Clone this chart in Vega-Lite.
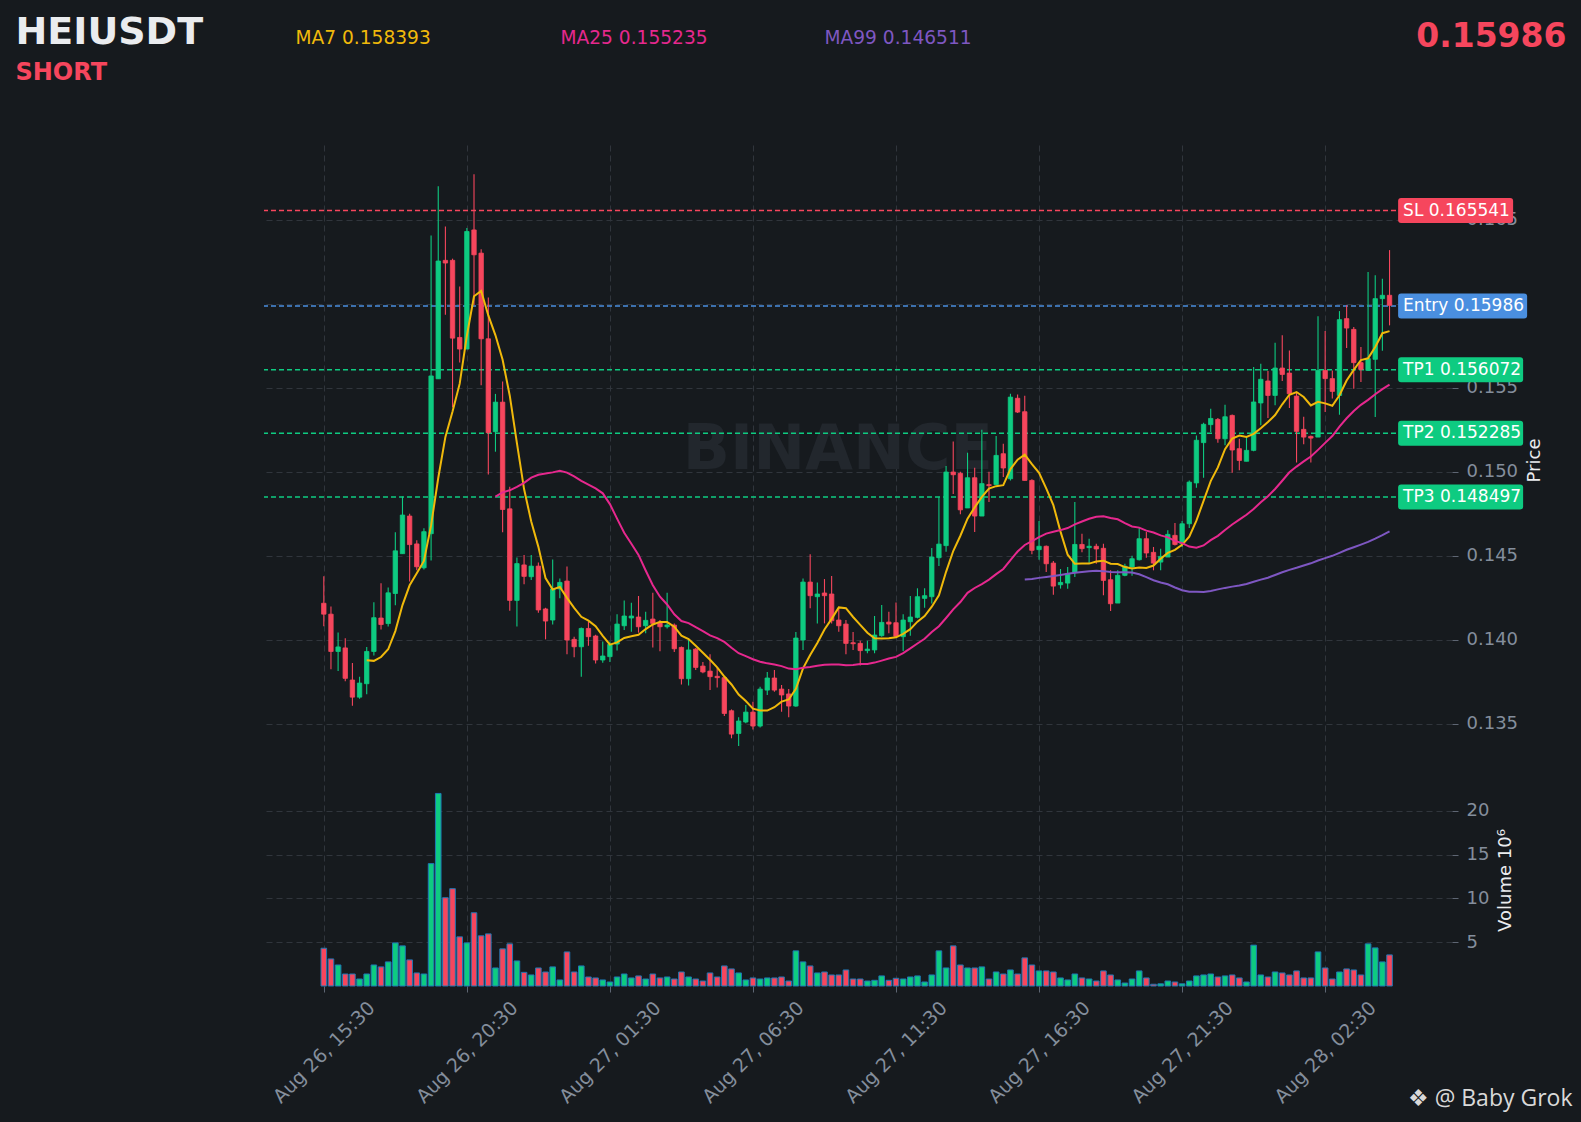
{
  "$schema": "https://vega.github.io/schema/vega-lite/v6.json",
  "background": "#161a1e",
  "autosize": {"type": "none"},
  "padding": {"left": 264, "top": 145, "right": 129, "bottom": 136},
  "width": 1188,
  "height": 841,
  "config": {
    "view": {"stroke": null},
    "scale": {"continuousPadding": 0},
    "axis": {
      "domain": false, "ticks": false, "labels": false, "grid": false,
      "labelFont": "DejaVu Sans", "titleFont": "DejaVu Sans", "titleFontWeight": "normal",
      "labelColor": "#848e9c", "tickColor": "#5e6673", "gridColor": "#30353c", "gridDash": [6, 4],
      "titleColor": "#eaecef"
    }
  },
  "datasets": {
    "candles": [
      {"t":"2025-08-26T15:30Z","o":0.14217,"h":0.14377,"l":0.1408,"c":0.14152,"v":4.31},
      {"t":"2025-08-26T15:45Z","o":0.14152,"h":0.14197,"l":0.13824,"c":0.1393,"v":3.09},
      {"t":"2025-08-26T16:00Z","o":0.1393,"h":0.14043,"l":0.13814,"c":0.13957,"v":2.4},
      {"t":"2025-08-26T16:15Z","o":0.13951,"h":0.14008,"l":0.13752,"c":0.1377,"v":1.37},
      {"t":"2025-08-26T16:30Z","o":0.1376,"h":0.13861,"l":0.13607,"c":0.13658,"v":1.37},
      {"t":"2025-08-26T16:45Z","o":0.13658,"h":0.13779,"l":0.13648,"c":0.13742,"v":0.8},
      {"t":"2025-08-26T17:00Z","o":0.13738,"h":0.13957,"l":0.13676,"c":0.1393,"v":1.37},
      {"t":"2025-08-26T17:15Z","o":0.1393,"h":0.14223,"l":0.13906,"c":0.14131,"v":2.4},
      {"t":"2025-08-26T17:30Z","o":0.14129,"h":0.14336,"l":0.14061,"c":0.1409,"v":2.18},
      {"t":"2025-08-26T17:45Z","o":0.14096,"h":0.14311,"l":0.14078,"c":0.14279,"v":2.75},
      {"t":"2025-08-26T18:00Z","o":0.14275,"h":0.14639,"l":0.14205,"c":0.14529,"v":4.92},
      {"t":"2025-08-26T18:15Z","o":0.14512,"h":0.14852,"l":0.14512,"c":0.14742,"v":4.58},
      {"t":"2025-08-26T18:30Z","o":0.14736,"h":0.1475,"l":0.14346,"c":0.14566,"v":2.98},
      {"t":"2025-08-26T18:45Z","o":0.1457,"h":0.14592,"l":0.14414,"c":0.14434,"v":1.49},
      {"t":"2025-08-26T19:00Z","o":0.14428,"h":0.14664,"l":0.14418,"c":0.14643,"v":1.37},
      {"t":"2025-08-26T19:15Z","o":0.14631,"h":0.16406,"l":0.14471,"c":0.1557,"v":13.97},
      {"t":"2025-08-26T19:30Z","o":0.15553,"h":0.16699,"l":0.15553,"c":0.16254,"v":21.98},
      {"t":"2025-08-26T19:45Z","o":0.16258,"h":0.16459,"l":0.15934,"c":0.16242,"v":10.08},
      {"t":"2025-08-26T20:00Z","o":0.16258,"h":0.16268,"l":0.15383,"c":0.15795,"v":11.11},
      {"t":"2025-08-26T20:15Z","o":0.15799,"h":0.16102,"l":0.1565,"c":0.1573,"v":5.61},
      {"t":"2025-08-26T20:30Z","o":0.1573,"h":0.16451,"l":0.1573,"c":0.1643,"v":4.92},
      {"t":"2025-08-26T20:45Z","o":0.16439,"h":0.1677,"l":0.15992,"c":0.16291,"v":8.36},
      {"t":"2025-08-26T21:00Z","o":0.16301,"h":0.16324,"l":0.15514,"c":0.15791,"v":5.73},
      {"t":"2025-08-26T21:15Z","o":0.15791,"h":0.16037,"l":0.14984,"c":0.15232,"v":5.95},
      {"t":"2025-08-26T21:30Z","o":0.15238,"h":0.15463,"l":0.15119,"c":0.15414,"v":2.06},
      {"t":"2025-08-26T21:45Z","o":0.15414,"h":0.15537,"l":0.14639,"c":0.14775,"v":4.24},
      {"t":"2025-08-26T22:00Z","o":0.14779,"h":0.1491,"l":0.14172,"c":0.14234,"v":4.81},
      {"t":"2025-08-26T22:15Z","o":0.14234,"h":0.1449,"l":0.14078,"c":0.14453,"v":2.86},
      {"t":"2025-08-26T22:30Z","o":0.14445,"h":0.14504,"l":0.1433,"c":0.14377,"v":1.56},
      {"t":"2025-08-26T22:45Z","o":0.14375,"h":0.14504,"l":0.14355,"c":0.14438,"v":1.26},
      {"t":"2025-08-26T23:00Z","o":0.14438,"h":0.1446,"l":0.14161,"c":0.14177,"v":2.06},
      {"t":"2025-08-26T23:15Z","o":0.14183,"h":0.1419,"l":0.14002,"c":0.14111,"v":1.6},
      {"t":"2025-08-26T23:30Z","o":0.14117,"h":0.14478,"l":0.14091,"c":0.14302,"v":2.18},
      {"t":"2025-08-26T23:45Z","o":0.14302,"h":0.14365,"l":0.14246,"c":0.14341,"v":0.69},
      {"t":"2025-08-27T00:00Z","o":0.14349,"h":0.14435,"l":0.13913,"c":0.13998,"v":3.89},
      {"t":"2025-08-27T00:15Z","o":0.14002,"h":0.14018,"l":0.13895,"c":0.13958,"v":1.6},
      {"t":"2025-08-27T00:30Z","o":0.13958,"h":0.14073,"l":0.1378,"c":0.14067,"v":2.29},
      {"t":"2025-08-27T00:45Z","o":0.14067,"h":0.14107,"l":0.13964,"c":0.14018,"v":1.03},
      {"t":"2025-08-27T01:00Z","o":0.14022,"h":0.1403,"l":0.13859,"c":0.13879,"v":0.92},
      {"t":"2025-08-27T01:15Z","o":0.13879,"h":0.1399,"l":0.13863,"c":0.13903,"v":0.69},
      {"t":"2025-08-27T01:30Z","o":0.13899,"h":0.1399,"l":0.13867,"c":0.13972,"v":0.46},
      {"t":"2025-08-27T01:45Z","o":0.13974,"h":0.14151,"l":0.13935,"c":0.14093,"v":1.03},
      {"t":"2025-08-27T02:00Z","o":0.14083,"h":0.14234,"l":0.14058,"c":0.14141,"v":1.37},
      {"t":"2025-08-27T02:15Z","o":0.14129,"h":0.1422,"l":0.14048,"c":0.14141,"v":0.92},
      {"t":"2025-08-27T02:30Z","o":0.14135,"h":0.1426,"l":0.14042,"c":0.14077,"v":1.15},
      {"t":"2025-08-27T02:45Z","o":0.14083,"h":0.14167,"l":0.14038,"c":0.14115,"v":0.8},
      {"t":"2025-08-27T03:00Z","o":0.14123,"h":0.1428,"l":0.13954,"c":0.14097,"v":1.37},
      {"t":"2025-08-27T03:15Z","o":0.14105,"h":0.14117,"l":0.13931,"c":0.14077,"v":0.92},
      {"t":"2025-08-27T03:30Z","o":0.14077,"h":0.1428,"l":0.14067,"c":0.14087,"v":1.03},
      {"t":"2025-08-27T03:45Z","o":0.14087,"h":0.14097,"l":0.13927,"c":0.13946,"v":0.8},
      {"t":"2025-08-27T04:00Z","o":0.13954,"h":0.1396,"l":0.13734,"c":0.13768,"v":1.6},
      {"t":"2025-08-27T04:15Z","o":0.13768,"h":0.14002,"l":0.13728,"c":0.13939,"v":1.03},
      {"t":"2025-08-27T04:30Z","o":0.13944,"h":0.1395,"l":0.13819,"c":0.13835,"v":0.8},
      {"t":"2025-08-27T04:45Z","o":0.13843,"h":0.13867,"l":0.138,"c":0.13808,"v":0.57},
      {"t":"2025-08-27T05:00Z","o":0.13813,"h":0.13913,"l":0.137,"c":0.1378,"v":1.49},
      {"t":"2025-08-27T05:15Z","o":0.13782,"h":0.13835,"l":0.13716,"c":0.13774,"v":1.03},
      {"t":"2025-08-27T05:30Z","o":0.13774,"h":0.1378,"l":0.13546,"c":0.13561,"v":2.29},
      {"t":"2025-08-27T05:45Z","o":0.13577,"h":0.13585,"l":0.13413,"c":0.13438,"v":1.95},
      {"t":"2025-08-27T06:00Z","o":0.13442,"h":0.13538,"l":0.13367,"c":0.13516,"v":1.49},
      {"t":"2025-08-27T06:15Z","o":0.1351,"h":0.13611,"l":0.13502,"c":0.13569,"v":0.69},
      {"t":"2025-08-27T06:30Z","o":0.13569,"h":0.13631,"l":0.13466,"c":0.13486,"v":0.92},
      {"t":"2025-08-27T06:45Z","o":0.13486,"h":0.1372,"l":0.13478,"c":0.13706,"v":0.8},
      {"t":"2025-08-27T07:00Z","o":0.137,"h":0.13808,"l":0.13671,"c":0.13772,"v":0.92},
      {"t":"2025-08-27T07:15Z","o":0.13772,"h":0.13819,"l":0.1369,"c":0.137,"v":0.92},
      {"t":"2025-08-27T07:30Z","o":0.13706,"h":0.1373,"l":0.13571,"c":0.13671,"v":1.03},
      {"t":"2025-08-27T07:45Z","o":0.13677,"h":0.13706,"l":0.13538,"c":0.13605,"v":0.57},
      {"t":"2025-08-27T08:00Z","o":0.13605,"h":0.14046,"l":0.13601,"c":0.1401,"v":4.01},
      {"t":"2025-08-27T08:15Z","o":0.13998,"h":0.14365,"l":0.13939,"c":0.14343,"v":2.75},
      {"t":"2025-08-27T08:30Z","o":0.14343,"h":0.14508,"l":0.14187,"c":0.14262,"v":2.29},
      {"t":"2025-08-27T08:45Z","o":0.14256,"h":0.14341,"l":0.14097,"c":0.14272,"v":1.49},
      {"t":"2025-08-27T09:00Z","o":0.14278,"h":0.14361,"l":0.14097,"c":0.14262,"v":1.6},
      {"t":"2025-08-27T09:15Z","o":0.14272,"h":0.14379,"l":0.14097,"c":0.14113,"v":1.26},
      {"t":"2025-08-27T09:30Z","o":0.14117,"h":0.14192,"l":0.14048,"c":0.14083,"v":1.26},
      {"t":"2025-08-27T09:45Z","o":0.14093,"h":0.14117,"l":0.13913,"c":0.13978,"v":1.83},
      {"t":"2025-08-27T10:00Z","o":0.13982,"h":0.14046,"l":0.13939,"c":0.13976,"v":0.8},
      {"t":"2025-08-27T10:15Z","o":0.13978,"h":0.13994,"l":0.13847,"c":0.13935,"v":0.8},
      {"t":"2025-08-27T10:30Z","o":0.13935,"h":0.13994,"l":0.13919,"c":0.13944,"v":0.57},
      {"t":"2025-08-27T10:45Z","o":0.13939,"h":0.14141,"l":0.13919,"c":0.14028,"v":0.65},
      {"t":"2025-08-27T11:00Z","o":0.14024,"h":0.14206,"l":0.14018,"c":0.14103,"v":1.15},
      {"t":"2025-08-27T11:15Z","o":0.14105,"h":0.14167,"l":0.14038,"c":0.14093,"v":0.65},
      {"t":"2025-08-27T11:30Z","o":0.14101,"h":0.14222,"l":0.14018,"c":0.1402,"v":0.88},
      {"t":"2025-08-27T11:45Z","o":0.14018,"h":0.14151,"l":0.13933,"c":0.14117,"v":0.8},
      {"t":"2025-08-27T12:00Z","o":0.14107,"h":0.1426,"l":0.14024,"c":0.14135,"v":1.03},
      {"t":"2025-08-27T12:15Z","o":0.14133,"h":0.14306,"l":0.14127,"c":0.14256,"v":1.15},
      {"t":"2025-08-27T12:30Z","o":0.14246,"h":0.14306,"l":0.1419,"c":0.14262,"v":0.46},
      {"t":"2025-08-27T12:45Z","o":0.14256,"h":0.14546,"l":0.14216,"c":0.14492,"v":1.26},
      {"t":"2025-08-27T13:00Z","o":0.14488,"h":0.14851,"l":0.14438,"c":0.14569,"v":4.01},
      {"t":"2025-08-27T13:15Z","o":0.1456,"h":0.15034,"l":0.14524,"c":0.14998,"v":2.06},
      {"t":"2025-08-27T13:30Z","o":0.14998,"h":0.1518,"l":0.14867,"c":0.14982,"v":4.58},
      {"t":"2025-08-27T13:45Z","o":0.1499,"h":0.15,"l":0.14746,"c":0.14773,"v":2.4},
      {"t":"2025-08-27T14:00Z","o":0.14784,"h":0.15113,"l":0.14784,"c":0.14964,"v":2.06},
      {"t":"2025-08-27T14:15Z","o":0.14964,"h":0.15024,"l":0.14641,"c":0.14736,"v":2.06},
      {"t":"2025-08-27T14:30Z","o":0.14736,"h":0.1525,"l":0.14736,"c":0.14929,"v":2.18},
      {"t":"2025-08-27T14:45Z","o":0.14923,"h":0.15,"l":0.14819,"c":0.14917,"v":0.8},
      {"t":"2025-08-27T15:00Z","o":0.14923,"h":0.15212,"l":0.14923,"c":0.15097,"v":1.6},
      {"t":"2025-08-27T15:15Z","o":0.15107,"h":0.15167,"l":0.14968,"c":0.15022,"v":1.37},
      {"t":"2025-08-27T15:30Z","o":0.14958,"h":0.15464,"l":0.14948,"c":0.15444,"v":1.83},
      {"t":"2025-08-27T15:45Z","o":0.15437,"h":0.1546,"l":0.1535,"c":0.15355,"v":1.37},
      {"t":"2025-08-27T16:00Z","o":0.15357,"h":0.15452,"l":0.14948,"c":0.14948,"v":3.21},
      {"t":"2025-08-27T16:15Z","o":0.14948,"h":0.14955,"l":0.14508,"c":0.14532,"v":2.4},
      {"t":"2025-08-27T16:30Z","o":0.14536,"h":0.14706,"l":0.14476,"c":0.14556,"v":1.72},
      {"t":"2025-08-27T16:45Z","o":0.14556,"h":0.1456,"l":0.14403,"c":0.14452,"v":1.72},
      {"t":"2025-08-27T17:00Z","o":0.14456,"h":0.14468,"l":0.14268,"c":0.14319,"v":1.6},
      {"t":"2025-08-27T17:15Z","o":0.14327,"h":0.14421,"l":0.14304,"c":0.14341,"v":0.92},
      {"t":"2025-08-27T17:30Z","o":0.14337,"h":0.14433,"l":0.14304,"c":0.14393,"v":0.69},
      {"t":"2025-08-27T17:45Z","o":0.14403,"h":0.14819,"l":0.14373,"c":0.14567,"v":1.37},
      {"t":"2025-08-27T18:00Z","o":0.14567,"h":0.14631,"l":0.1452,"c":0.14542,"v":0.92},
      {"t":"2025-08-27T18:15Z","o":0.14548,"h":0.14601,"l":0.14452,"c":0.14556,"v":0.8},
      {"t":"2025-08-27T18:30Z","o":0.14556,"h":0.14571,"l":0.14452,"c":0.1454,"v":0.57},
      {"t":"2025-08-27T18:45Z","o":0.14544,"h":0.14571,"l":0.14264,"c":0.14353,"v":1.72},
      {"t":"2025-08-27T19:00Z","o":0.14357,"h":0.14413,"l":0.14171,"c":0.14214,"v":1.26},
      {"t":"2025-08-27T19:15Z","o":0.14218,"h":0.14413,"l":0.14218,"c":0.14383,"v":0.69},
      {"t":"2025-08-27T19:30Z","o":0.14383,"h":0.14452,"l":0.14377,"c":0.14437,"v":0.34},
      {"t":"2025-08-27T19:45Z","o":0.14433,"h":0.145,"l":0.14381,"c":0.14482,"v":0.8},
      {"t":"2025-08-27T20:00Z","o":0.14476,"h":0.14667,"l":0.14472,"c":0.14601,"v":1.72},
      {"t":"2025-08-27T20:15Z","o":0.14601,"h":0.14641,"l":0.14488,"c":0.14516,"v":0.92},
      {"t":"2025-08-27T20:30Z","o":0.1452,"h":0.14552,"l":0.14413,"c":0.14456,"v":0.2},
      {"t":"2025-08-27T20:45Z","o":0.14462,"h":0.14542,"l":0.14413,"c":0.14496,"v":0.25},
      {"t":"2025-08-27T21:00Z","o":0.14492,"h":0.14651,"l":0.14492,"c":0.14627,"v":0.57},
      {"t":"2025-08-27T21:15Z","o":0.14621,"h":0.14694,"l":0.14561,"c":0.14567,"v":0.46},
      {"t":"2025-08-27T21:30Z","o":0.14571,"h":0.14706,"l":0.14552,"c":0.1469,"v":0.25},
      {"t":"2025-08-27T21:45Z","o":0.1469,"h":0.14948,"l":0.14665,"c":0.14938,"v":0.57},
      {"t":"2025-08-27T22:00Z","o":0.14933,"h":0.15216,"l":0.14905,"c":0.15187,"v":1.15},
      {"t":"2025-08-27T22:15Z","o":0.15173,"h":0.15292,"l":0.14964,"c":0.15282,"v":1.26},
      {"t":"2025-08-27T22:30Z","o":0.1528,"h":0.15375,"l":0.15236,"c":0.15317,"v":1.37},
      {"t":"2025-08-27T22:45Z","o":0.15311,"h":0.1532,"l":0.15173,"c":0.15196,"v":1.03},
      {"t":"2025-08-27T23:00Z","o":0.15196,"h":0.15399,"l":0.15157,"c":0.15327,"v":1.15},
      {"t":"2025-08-27T23:15Z","o":0.15335,"h":0.1534,"l":0.14994,"c":0.15129,"v":1.26},
      {"t":"2025-08-27T23:30Z","o":0.15137,"h":0.15196,"l":0.15008,"c":0.15067,"v":0.92},
      {"t":"2025-08-27T23:45Z","o":0.15062,"h":0.15206,"l":0.15062,"c":0.15127,"v":0.46},
      {"t":"2025-08-28T00:00Z","o":0.15127,"h":0.15623,"l":0.15121,"c":0.15415,"v":4.66},
      {"t":"2025-08-28T00:15Z","o":0.15409,"h":0.15643,"l":0.15276,"c":0.1555,"v":1.26},
      {"t":"2025-08-28T00:30Z","o":0.1554,"h":0.15599,"l":0.15319,"c":0.15454,"v":1.03},
      {"t":"2025-08-28T00:45Z","o":0.15454,"h":0.15768,"l":0.15395,"c":0.15617,"v":1.6},
      {"t":"2025-08-28T01:00Z","o":0.15617,"h":0.15812,"l":0.1554,"c":0.15579,"v":1.49},
      {"t":"2025-08-28T01:15Z","o":0.15587,"h":0.15722,"l":0.15379,"c":0.15464,"v":1.26},
      {"t":"2025-08-28T01:30Z","o":0.1545,"h":0.15474,"l":0.15054,"c":0.1524,"v":1.72},
      {"t":"2025-08-28T01:45Z","o":0.15252,"h":0.15327,"l":0.15163,"c":0.15206,"v":0.92},
      {"t":"2025-08-28T02:00Z","o":0.1521,"h":0.15216,"l":0.15054,"c":0.152,"v":0.92},
      {"t":"2025-08-28T02:15Z","o":0.15206,"h":0.15925,"l":0.15206,"c":0.15603,"v":3.89},
      {"t":"2025-08-28T02:30Z","o":0.15603,"h":0.15837,"l":0.15355,"c":0.15554,"v":2.06},
      {"t":"2025-08-28T02:45Z","o":0.15554,"h":0.15603,"l":0.15435,"c":0.15478,"v":0.8},
      {"t":"2025-08-28T03:00Z","o":0.15454,"h":0.15956,"l":0.15339,"c":0.15905,"v":1.6},
      {"t":"2025-08-28T03:15Z","o":0.15911,"h":0.1599,"l":0.15736,"c":0.15855,"v":1.95},
      {"t":"2025-08-28T03:30Z","o":0.15847,"h":0.15861,"l":0.15494,"c":0.15649,"v":1.83},
      {"t":"2025-08-28T03:45Z","o":0.15649,"h":0.15742,"l":0.15534,"c":0.15609,"v":1.26},
      {"t":"2025-08-28T04:00Z","o":0.15603,"h":0.16188,"l":0.15603,"c":0.15673,"v":4.81},
      {"t":"2025-08-28T04:15Z","o":0.15669,"h":0.16169,"l":0.15325,"c":0.1603,"v":4.35},
      {"t":"2025-08-28T04:30Z","o":0.1603,"h":0.16149,"l":0.1572,"c":0.1605,"v":2.75},
      {"t":"2025-08-28T04:45Z","o":0.1605,"h":0.16319,"l":0.15871,"c":0.1599,"v":3.55}
    ],
    "levels": [
      {"label": "SL 0.165541", "kind": "sl", "price": 0.165541},
      {"label": "Entry 0.15986", "kind": "entry", "price": 0.15986},
      {"label": "TP1 0.156072", "kind": "tp", "price": 0.156072},
      {"label": "TP2 0.152285", "kind": "tp", "price": 0.152285},
      {"label": "TP3 0.148497", "kind": "tp", "price": 0.148497}
    ]
  },
  "data": {"name": "candles"},
  "layer": [
    {
      "layer": [
        {
          "data": {"values": [{"w": "BINANCE"}]},
          "mark": {"type": "text", "font": "DejaVu Sans", "fontWeight": "bold", "fontSize": 62, "color": "#22272d", "align": "center", "baseline": "middle"},
          "encoding": {
            "x": {"datum": {"year": 2025, "month": 8, "date": 27, "hours": 9, "minutes": 28, "utc": true}, "type": "temporal",
              "scale": {"type": "utc", "nice": false, "padding": 0, "domain": [{"year": 2025, "month": 8, "date": 26, "hours": 13, "minutes": 24, "seconds": 35, "utc": true}, {"year": 2025, "month": 8, "date": 28, "hours": 6, "minutes": 56, "utc": true}]},
              "axis": {"orient": "top", "title": "0.15986", "titleX": 1302, "titleY": -99, "titleAngle": 0, "titleAlign": "right", "titleBaseline": "alphabetic", "titleFontSize": 33, "titleFontWeight": "bold", "titleColor": "#f6465d"}},
            "y": {"datum": 0.15129, "type": "quantitative", "scale": {"domain": [0.119387, 0.169446], "zero": false, "nice": false},
              "axis": {"orient": "left", "title": "HEIUSDT", "titleX": -249, "titleY": -102, "titleAngle": 0, "titleAlign": "left", "titleBaseline": "alphabetic", "titleFontSize": 38, "titleFontWeight": "bold", "titleColor": "#eaecef"}},
            "text": {"field": "w"}
          }
        },
        {
          "data": {"name": "levels"},
          "mark": {"type": "rule", "strokeDash": [5, 3], "strokeWidth": 1.5},
          "encoding": {
            "y": {"field": "price", "type": "quantitative", "scale": {"domain": [0.119387, 0.169446], "zero": false, "nice": false}, "axis": null},
            "color": {"field": "kind", "type": "nominal", "scale": {"domain": ["sl", "entry", "tp"], "range": ["#f6465d", "#4a8fe0", "#0ecb81"]}, "legend": null}
          }
        },
        {
          "mark": {"type": "rule", "strokeWidth": 1.1},
          "encoding": {
            "x": {"field": "t", "type": "temporal", "scale": {"type": "utc", "nice": false, "padding": 0, "domain": [{"year": 2025, "month": 8, "date": 26, "hours": 13, "minutes": 24, "seconds": 35, "utc": true}, {"year": 2025, "month": 8, "date": 28, "hours": 6, "minutes": 56, "utc": true}]}, "axis": null},
            "y": {"field": "l", "type": "quantitative", "scale": {"domain": [0.119387, 0.169446], "zero": false, "nice": false},
              "axis": {"orient": "right", "values": [0.135, 0.14, 0.145, 0.15, 0.155, 0.16, 0.165], "format": ".3f", "labels": true, "ticks": true, "tickSize": 6, "grid": true, "labelPadding": 8, "labelFontSize": 18,
                "title": "Price", "titleFontSize": 18, "titleAngle": 270, "titleBaseline": "top", "titleY": 315, "titlePadding": 8}},
            "y2": {"field": "h"},
            "color": {"condition": {"test": "datum.c >= datum.o", "value": "#0ecb81"}, "value": "#f6465d"}
          }
        },
        {
          "mark": {"type": "bar", "width": 4.4, "strokeWidth": 0.8},
          "encoding": {
            "x": {"field": "t", "type": "temporal", "scale": {"type": "utc", "nice": false, "padding": 0, "domain": [{"year": 2025, "month": 8, "date": 26, "hours": 13, "minutes": 24, "seconds": 35, "utc": true}, {"year": 2025, "month": 8, "date": 28, "hours": 6, "minutes": 56, "utc": true}]}, "axis": null},
            "y": {"field": "o", "type": "quantitative", "scale": {"domain": [0.119387, 0.169446], "zero": false, "nice": false},
              "axis": {"orient": "left", "title": "SHORT", "titleX": -249, "titleY": -66, "titleAngle": 0, "titleAlign": "left", "titleBaseline": "alphabetic", "titleFontSize": 24, "titleFontWeight": "bold", "titleColor": "#f6465d"}},
            "y2": {"field": "c"},
            "fill": {"condition": {"test": "datum.c >= datum.o", "value": "#0ecb81"}, "value": "#f6465d"},
            "stroke": {"condition": {"test": "datum.c >= datum.o", "value": "#0ecb81"}, "value": "#f6465d"}
          }
        },
        {
          "transform": [
            {"window": [{"op": "mean", "field": "c", "as": "ma"}, {"op": "count", "as": "n"}], "frame": [-6, 0], "sort": [{"field": "t"}]},
            {"filter": "datum.n == 7"}
          ],
          "mark": {"type": "line", "color": "#f0b90b", "strokeWidth": 2},
          "encoding": {
            "x": {"field": "t", "type": "temporal", "scale": {"type": "utc", "nice": false, "padding": 0, "domain": [{"year": 2025, "month": 8, "date": 26, "hours": 13, "minutes": 24, "seconds": 35, "utc": true}, {"year": 2025, "month": 8, "date": 28, "hours": 6, "minutes": 56, "utc": true}]},
              "axis": {"orient": "top", "title": "MA7 0.158393", "titleX": 31, "titleY": -102, "titleAngle": 0, "titleAlign": "left", "titleBaseline": "alphabetic", "titleFontSize": 18.6, "titleColor": "#f0b90b"}},
            "y": {"field": "ma", "type": "quantitative", "scale": {"domain": [0.119387, 0.169446], "zero": false, "nice": false}, "axis": null}
          }
        },
        {
          "transform": [
            {"window": [{"op": "mean", "field": "c", "as": "ma"}, {"op": "count", "as": "n"}], "frame": [-24, 0], "sort": [{"field": "t"}]},
            {"filter": "datum.n == 25"}
          ],
          "mark": {"type": "line", "color": "#e6288e", "strokeWidth": 2},
          "encoding": {
            "x": {"field": "t", "type": "temporal", "scale": {"type": "utc", "nice": false, "padding": 0, "domain": [{"year": 2025, "month": 8, "date": 26, "hours": 13, "minutes": 24, "seconds": 35, "utc": true}, {"year": 2025, "month": 8, "date": 28, "hours": 6, "minutes": 56, "utc": true}]},
              "axis": {"orient": "top", "title": "MA25 0.155235", "titleX": 296, "titleY": -102, "titleAngle": 0, "titleAlign": "left", "titleBaseline": "alphabetic", "titleFontSize": 18.6, "titleColor": "#e6288e"}},
            "y": {"field": "ma", "type": "quantitative", "scale": {"domain": [0.119387, 0.169446], "zero": false, "nice": false}, "axis": null}
          }
        },
        {
          "transform": [
            {"window": [{"op": "mean", "field": "c", "as": "ma"}, {"op": "count", "as": "n"}], "frame": [-98, 0], "sort": [{"field": "t"}]},
            {"filter": "datum.n == 99"}
          ],
          "mark": {"type": "line", "color": "#7e57c2", "strokeWidth": 2},
          "encoding": {
            "x": {"field": "t", "type": "temporal", "scale": {"type": "utc", "nice": false, "padding": 0, "domain": [{"year": 2025, "month": 8, "date": 26, "hours": 13, "minutes": 24, "seconds": 35, "utc": true}, {"year": 2025, "month": 8, "date": 28, "hours": 6, "minutes": 56, "utc": true}]},
              "axis": {"orient": "top", "title": "MA99 0.146511", "titleX": 560, "titleY": -102, "titleAngle": 0, "titleAlign": "left", "titleBaseline": "alphabetic", "titleFontSize": 18.6, "titleColor": "#7e57c2"}},
            "y": {"field": "ma", "type": "quantitative", "scale": {"domain": [0.119387, 0.169446], "zero": false, "nice": false}, "axis": null}
          }
        },
        {
          "data": {"name": "levels"},
          "mark": {"type": "point", "filled": true, "size": 4, "opacity": 1, "strokeWidth": 0},
          "encoding": {
            "x": {"datum": {"year": 2025, "month": 8, "date": 28, "hours": 5, "minutes": 3, "utc": true}, "type": "temporal", "scale": {"type": "utc", "nice": false, "padding": 0, "domain": [{"year": 2025, "month": 8, "date": 26, "hours": 13, "minutes": 24, "seconds": 35, "utc": true}, {"year": 2025, "month": 8, "date": 28, "hours": 6, "minutes": 56, "utc": true}]}, "axis": null},
            "y": {"field": "price", "type": "quantitative", "scale": {"domain": [0.119387, 0.169446], "zero": false, "nice": false}, "axis": null},
            "color": {"field": "kind", "type": "nominal", "scale": {"domain": ["sl", "entry", "tp"], "range": ["#f6465d", "#4a8fe0", "#0ecb81"]}, "legend": null},
            "shape": {"field": "kind", "type": "nominal", "legend": null, "scale": {"domain": ["sl", "entry", "tp"], "range": [
              "M3,-12.5H112Q115,-12.5 115,-9.5V9.5Q115,12.5 112,12.5H3Q0,12.5 0,9.5V-9.5Q0,-12.5 3,-12.5Z",
              "M3,-12.5H126Q129,-12.5 129,-9.5V9.5Q129,12.5 126,12.5H3Q0,12.5 0,9.5V-9.5Q0,-12.5 3,-12.5Z",
              "M3,-12.5H122Q125,-12.5 125,-9.5V9.5Q125,12.5 122,12.5H3Q0,12.5 0,9.5V-9.5Q0,-12.5 3,-12.5Z"]}}
          }
        },
        {
          "data": {"name": "levels"},
          "mark": {"type": "text", "align": "left", "baseline": "middle", "dx": 5, "font": "DejaVu Sans", "fontSize": 17, "color": "#ffffff"},
          "encoding": {
            "x": {"datum": {"year": 2025, "month": 8, "date": 28, "hours": 5, "minutes": 3, "utc": true}, "type": "temporal", "scale": {"type": "utc", "nice": false, "padding": 0, "domain": [{"year": 2025, "month": 8, "date": 26, "hours": 13, "minutes": 24, "seconds": 35, "utc": true}, {"year": 2025, "month": 8, "date": 28, "hours": 6, "minutes": 56, "utc": true}]}, "axis": null},
            "y": {"field": "price", "type": "quantitative", "scale": {"domain": [0.119387, 0.169446], "zero": false, "nice": false}, "axis": null},
            "text": {"field": "label"}
          }
        }
      ],
      "resolve": {"axis": {"x": "independent", "y": "independent"}}
    },
    {
      "mark": {"type": "bar", "width": 5.6, "stroke": "#1f77b4", "strokeWidth": 1},
      "encoding": {
        "x": {"field": "t", "type": "temporal", "scale": {"type": "utc", "nice": false, "padding": 0, "domain": [{"year": 2025, "month": 8, "date": 26, "hours": 13, "minutes": 24, "seconds": 35, "utc": true}, {"year": 2025, "month": 8, "date": 28, "hours": 6, "minutes": 56, "utc": true}]},
          "axis": {"orient": "bottom", "values": [
              {"year": 2025, "month": 8, "date": 26, "hours": 15, "minutes": 30, "utc": true},
              {"year": 2025, "month": 8, "date": 26, "hours": 20, "minutes": 30, "utc": true},
              {"year": 2025, "month": 8, "date": 27, "hours": 1, "minutes": 30, "utc": true},
              {"year": 2025, "month": 8, "date": 27, "hours": 6, "minutes": 30, "utc": true},
              {"year": 2025, "month": 8, "date": 27, "hours": 11, "minutes": 30, "utc": true},
              {"year": 2025, "month": 8, "date": 27, "hours": 16, "minutes": 30, "utc": true},
              {"year": 2025, "month": 8, "date": 27, "hours": 21, "minutes": 30, "utc": true},
              {"year": 2025, "month": 8, "date": 28, "hours": 2, "minutes": 30, "utc": true}],
            "labelExpr": "utcFormat(datum.value, '%b %d, %H:%M')", "labels": true, "ticks": true, "tickSize": 6, "grid": true,
            "labelAngle": -45, "labelAlign": "center", "labelBaseline": "middle", "labelPadding": 60, "labelFontSize": 19,
            "labelOverlap": false, "labelFlush": false, "labelBound": false,
            "title": "❖ @ Baby Grok", "titleX": 1308, "titleY": 119, "titleAngle": 0, "titleAlign": "right", "titleBaseline": "alphabetic",
            "titleFont": "Open Sans", "titleFontSize": 23, "titleColor": "#d9d9d9"}},
        "y": {"field": "v", "type": "quantitative", "scale": {"domain": [0, 96], "nice": false},
          "axis": {"orient": "right", "values": [5, 10, 15, 20], "labels": true, "ticks": true, "tickSize": 6, "grid": true, "labelPadding": 8, "labelFontSize": 18,
            "title": "Volume  10⁶", "titleFontSize": 18, "titleAngle": 270, "titleBaseline": "top", "titleY": 735, "titlePadding": 8}},
        "fill": {"condition": {"test": "datum.c >= datum.o", "value": "#0ecb81"}, "value": "#f6465d"}
      }
    }
  ],
  "resolve": {"scale": {"y": "independent"}, "axis": {"x": "independent", "y": "independent"}}
}
